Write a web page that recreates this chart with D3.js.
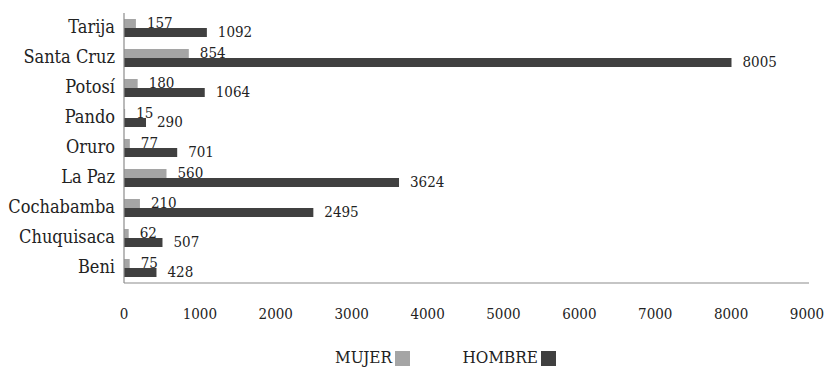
<!DOCTYPE html>
<html>
<head>
<meta charset="utf-8">
<script src="https://cdn.jsdelivr.net/npm/d3@7"></script>
<style>
  body { margin: 0; background: #fff; }
  text { font-family: "DejaVu Serif Condensed", "DejaVu Serif", serif; font-stretch: condensed; fill: #222; }
</style>
</head>
<body>
<div id="chart"></div>
<script>
// data
let categories = ["Tarija", "Santa Cruz", "Potosí", "Pando", "Oruro", "La Paz", "Cochabamba", "Chuquisaca", "Beni"];
let mujer = [157, 854, 180, 15, 77, 560, 210, 62, 75];
let hombre = [1092, 8005, 1064, 290, 701, 3624, 2495, 507, 428];
let xTicks = [0, 1000, 2000, 3000, 4000, 5000, 6000, 7000, 8000, 9000];
let seriesNames = ["MUJER", "HOMBRE"];
let colors = ["#a5a5a5", "#404040"];

let width = 831, height = 369;
let margin = {top: 13, right: 22, bottom: 86, left: 124};
let innerW = width - margin.left - margin.right;
let innerH = height - margin.top - margin.bottom;

let svg = d3.select("#chart").append("svg")
    .attr("width", width)
    .attr("height", height);

let g = svg.append("g")
    .attr("transform", `translate(${margin.left},${margin.top})`);

// scales
let x = d3.scaleLinear().domain([0, 9000]).range([0, innerW - 2]);
let y = d3.scaleBand().domain(categories).range([0, innerH]).paddingInner(0.4).paddingOuter(0.2);
let sub = d3.scaleBand().domain([0, 1]).range([0, y.bandwidth()]);

let rows = categories.map((c, i) => ({cat: c, vals: [mujer[i], hombre[i]]}));

let row = g.selectAll(".row")
    .data(rows)
    .enter().append("g")
    .attr("class", "row")
    .attr("transform", d => `translate(0,${y(d.cat)})`);

row.selectAll("rect")
    .data(d => d.vals)
    .enter().append("rect")
    .attr("x", 0)
    .attr("y", (d, i) => sub(i))
    .attr("width", d => x(d))
    .attr("height", sub.bandwidth())
    .attr("fill", (d, i) => colors[i]);

row.selectAll(".val")
    .data(d => d.vals)
    .enter().append("text")
    .attr("class", "val")
    .attr("x", d => x(d) + 11)
    .attr("y", (d, i) => sub(i) + sub.bandwidth() / 2)
    .attr("dominant-baseline", "middle")
    .style("font-size", "15px")
    .text(d => d);

// axes lines
g.append("line")
    .attr("x1", 0).attr("x2", 0)
    .attr("y1", 0).attr("y2", innerH)
    .attr("stroke", "#8c8c8c").attr("stroke-width", 1.2);

g.append("line")
    .attr("x1", 0).attr("x2", innerW)
    .attr("y1", innerH).attr("y2", innerH)
    .attr("stroke", "#8c8c8c").attr("stroke-width", 1.2);

// category labels
g.selectAll(".cat")
    .data(categories)
    .enter().append("text")
    .attr("class", "cat")
    .attr("x", -9)
    .attr("y", d => y(d) + y.bandwidth() / 2)
    .attr("text-anchor", "end")
    .attr("dominant-baseline", "middle")
    .style("font-size", "18px")
    .text(d => d);

// x tick labels
g.selectAll(".tick-label")
    .data(xTicks)
    .enter().append("text")
    .attr("class", "tick-label")
    .attr("x", d => x(d))
    .attr("y", innerH + 32)
    .attr("text-anchor", "middle")
    .attr("dominant-baseline", "middle")
    .style("font-size", "15px")
    .text(d => d);

// legend
let legend = svg.append("g").attr("transform", "translate(0,358)");
let legendX = [392, 538];
seriesNames.forEach((name, i) => {
    legend.append("text")
        .attr("x", legendX[i])
        .attr("y", 0)
        .attr("text-anchor", "end")
        .attr("dominant-baseline", "middle")
        .style("font-size", "17px")
        .text(name);
    legend.append("rect")
        .attr("x", legendX[i] + 3)
        .attr("y", -7)
        .attr("width", 15)
        .attr("height", 15)
        .attr("fill", colors[i]);
});
</script>
</body>
</html>
